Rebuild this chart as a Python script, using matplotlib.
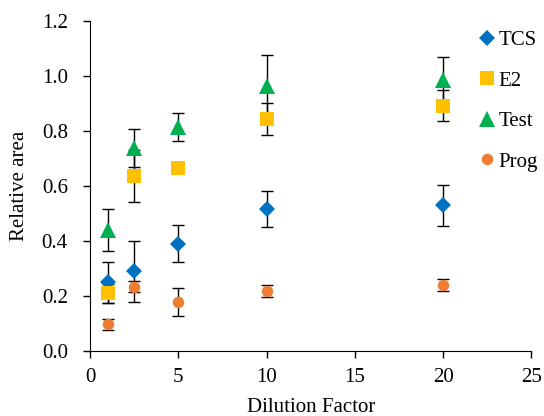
import matplotlib
matplotlib.use("Agg")
import matplotlib.pyplot as plt

plt.rcParams['font.family'] = ['Liberation Serif', 'DejaVu Serif']

x = [1, 2.5, 5, 10, 20]
series = ["TCS", "E2", "Test", "Prog"]
tcs = [0.25, 0.29, 0.39, 0.515, 0.53]
tcs_err = [0.075, 0.11, 0.067, 0.065, 0.075]
e2 = [0.21, 0.636, 0.665, 0.843, 0.892]
e2_err = [0.035, 0.095, 0.01, 0.058, 0.055]
test = [0.44, 0.738, 0.815, 0.964, 0.985]
test_err = [0.078, 0.07, 0.05, 0.11, 0.082]
prog = [0.098, 0.233, 0.178, 0.218, 0.24]
prog_err = [0.02, 0.02, 0.05, 0.022, 0.022]

xticks = [0, 5, 10, 15, 20, 25]
yticks = [0.0, 0.2, 0.4, 0.6, 0.8, 1.0, 1.2]

fig = plt.figure(figsize=(5.44, 4.16), dpi=100)
ax = fig.add_axes([0.1654, 0.156, 0.977 - 0.1654, 0.950 - 0.156])

styles = [
    (tcs, tcs_err, 'D', '#0070C0', 7.8),
    (e2, e2_err, 's', '#FFC000', 10.5),
    (test, test_err, '^', '#00B050', 11),
    (prog, prog_err, 'o', '#ED7D31', 8.3),
]

for vals, errs, m, c, ms in styles:
    ax.errorbar(x, vals, yerr=errs, fmt='none', ecolor='black', elinewidth=1,
                capsize=4, capthick=1, zorder=2)
for name, (vals, errs, m, c, ms) in zip(series, styles):
    ax.plot(x, vals, linestyle='none', marker=m, color=c, markersize=ms,
            markeredgewidth=0, label=name, zorder=3)

ax.set_xlim(0, 25)
ax.set_ylim(0, 1.2)
ax.set_xticks(xticks)
ax.set_yticks(yticks)
ax.set_yticklabels([f"{v:.1f}" for v in yticks])
ax.spines['top'].set_visible(False)
ax.spines['right'].set_visible(False)
ax.tick_params(labelsize=15, direction='out', length=5, width=1)
ax.tick_params(axis='y', pad=11)
ax.tick_params(axis='x', pad=7)
ax.set_xlabel("Dilution Factor", fontsize=15, labelpad=8)
ax.set_ylabel("Relative area", fontsize=15, labelpad=9)

leg = ax.legend(loc='upper left', bbox_to_anchor=(0.855, 0.995), frameon=False,
                fontsize=15, labelspacing=1.0, handletextpad=0.0,
                handlelength=1.1, borderaxespad=0)

fig.savefig("out.png", dpi=100)
